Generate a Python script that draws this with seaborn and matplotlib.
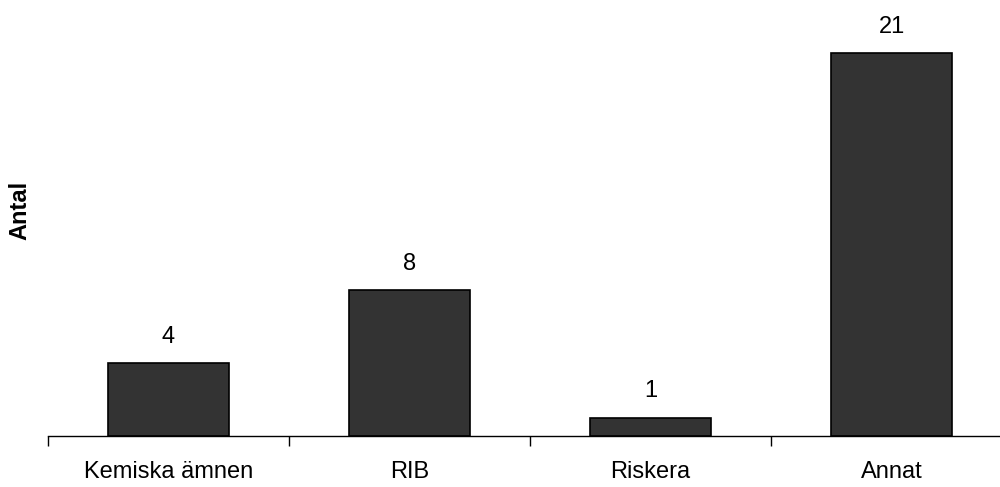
import matplotlib
matplotlib.use("Agg")
import matplotlib.pyplot as plt
import seaborn as sns
import pandas as pd
import numpy as np

categories = ["Kemiska ämnen", "RIB", "Riskera", "Annat"]
values = [4, 8, 1, 21]

sns.set_style("white")
plt.rcParams['font.family'] = ['Liberation Sans', 'DejaVu Sans']
plt.rcParams['text.color'] = 'black'
plt.rcParams['axes.labelcolor'] = 'black'
plt.rcParams['xtick.color'] = 'black'

df = pd.DataFrame({"cat": categories, "val": values})

fig = plt.figure(figsize=(10, 4.87), dpi=100)
ax = fig.add_axes([0.048, 51/487, 0.964, 436/487])

sns.barplot(data=df, x="cat", y="val", color="#333333", width=0.505,
            edgecolor="black", linewidth=1.2, saturation=1, ax=ax)

ax.set_xlim(-0.5, len(categories) - 0.5)
ax.set_ylim(0, 23.9)

for i, v in enumerate(values):
    ax.annotate(str(v), (i, v), xytext=(0, 11), textcoords="offset points",
                ha="center", va="bottom", fontsize=17, color="black")

for s in ["top", "right", "left"]:
    ax.spines[s].set_visible(False)
ax.spines["bottom"].set_color("black")
ax.spines["bottom"].set_linewidth(1.0)

ax.set_yticks([])
ax.set_xticks(range(len(categories)))
ax.set_xticklabels(categories, fontsize=17)
ax.tick_params(axis="x", which="major", length=0, pad=18, labelcolor="black")
ax.set_xticks(np.arange(-0.5, len(categories), 1.0), minor=True)
ax.tick_params(axis="x", which="minor", length=7, width=1.0, color="black", direction="out")
ax.xaxis.set_ticks_position("bottom")

ax.set_xlabel("")
ax.set_ylabel("Antal", fontsize=17, fontweight="bold")
ax.yaxis.set_label_coords(-0.017, 0.518)

fig.savefig("out.png", dpi=100)
